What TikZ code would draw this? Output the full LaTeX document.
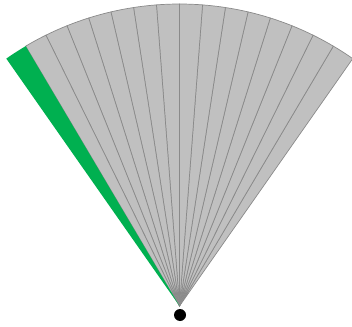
\documentclass[tikz,border=0pt]{standalone}
\definecolor{segfill}{HTML}{C0C0C0}
\definecolor{segline}{HTML}{8A8A8A}
\definecolor{seggreen}{HTML}{00B050}
\tikzset{
  seg/.style={fill=segfill, draw=segline, line width=0.7pt, line join=round},
  greenseg/.style={fill=seggreen, draw=none},
  hub/.style={circle, fill=black, inner sep=0pt, minimum size=12pt}
}
\begin{document}
\begin{tikzpicture}[x=1pt,y=1pt]
\useasboundingbox (0,0) rectangle (352,326);
\coordinate (O) at (179.5,20);
\foreach \i in {0,...,14} {
  \pgfmathsetmacro\a{55+4.375*\i}
  \pgfmathsetmacro\b{55+4.375*(\i+1)}
  \path[seg] (O) -- ++(\a:302) arc[start angle=\a, end angle=\b, radius=302] -- cycle;
}
\path[greenseg] (O) -- ++(120.625:302) arc[start angle=120.625, end angle=125, radius=302] -- cycle;
\node[hub] (dot) at (180,11) {};
\end{tikzpicture}
\end{document}
